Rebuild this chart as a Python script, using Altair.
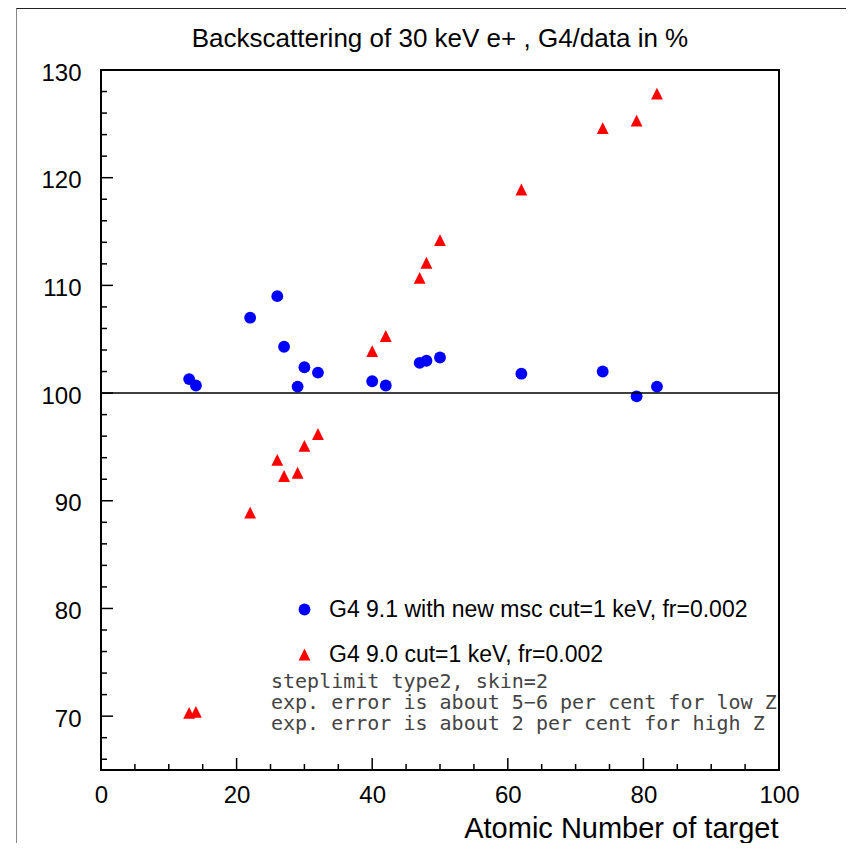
import altair as alt
import pandas as pd

# ---- data ----
atomic_z = [13, 14, 22, 26, 27, 29, 30, 32, 40, 42, 47, 48, 50, 62, 74, 79, 82]
g4_91 = [101.3, 100.7, 107.0, 109.0, 104.3, 100.6, 102.4, 101.9, 101.1, 100.7,
         102.8, 103.0, 103.3, 101.8, 102.0, 99.7, 100.6]
g4_90 = [70.3, 70.4, 88.9, 93.8, 92.3, 92.6, 95.1, 96.2, 103.9, 105.3,
         110.7, 112.1, 114.2, 118.9, 124.6, 125.3, 127.8]
series_names = ["G4 9.1 with new msc cut=1 keV, fr=0.002", "G4 9.0 cut=1 keV, fr=0.002"]
series_colors = ["#0000ff", "#ff0000"]
reference_level = [100]
notes = ["steplimit type2, skin=2",
         "exp. error is about 5\u22126 per cent for low Z",
         "exp. error is about 2 per cent for high Z"]
x_major = [0, 20, 40, 60, 80, 100]
x_minor = [v for v in range(5, 100, 5) if v % 20 != 0]
y_major = [70, 80, 90, 100, 110, 120, 130]
y_minor = [v for v in range(66, 130, 2) if v % 10 != 0]
title_text = "Backscattering of 30 keV e+ , G4/data in %"
x_title = "Atomic Number of target"

W, H = 678, 700
FONT = "Liberation Sans"
TRI = "M0,-1L1,1L-1,1Z"

df = pd.DataFrame({
    "Z": atomic_z * 2,
    "ratio": g4_91 + g4_90,
    "series": [series_names[0]] * len(atomic_z) + [series_names[1]] * len(atomic_z),
})

xs = alt.Scale(domain=[0, 100], nice=False, zero=False)
ys = alt.Scale(domain=[65, 130], nice=False, zero=False)

leg = alt.Legend(title=None, orient="none", legendX=192, legendY=528,
                 labelFontSize=23, labelFont=FONT, labelColor="black",
                 symbolSize=140, symbolStrokeWidth=0, symbolOpacity=1,
                 rowPadding=21, labelOffset=13, padding=0, labelLimit=1000)

points = alt.Chart(df).mark_point(filled=True, size=140, opacity=1).encode(
    x=alt.X("Z:Q", scale=xs, axis=alt.Axis(
        values=x_major, ticks=False, tickSize=0, domain=False, grid=False,
        labelFontSize=24, labelFont=FONT, labelColor="black", labelPadding=13,
        labelFlush=False, labelBaseline="top",
        title=x_title, titleFont=FONT, titleFontSize=29, titleFontWeight="normal",
        titleColor="black", titleAlign="right", titleBaseline="alphabetic",
        titleX=W - 1, titleY=67)),
    y=alt.Y("ratio:Q", scale=ys, axis=alt.Axis(
        values=y_major, ticks=False, tickSize=0, domain=False, grid=False,
        labelFontSize=24, labelFont=FONT, labelColor="black", labelPadding=20,
        labelOffset=3, labelFlush=False, title="")),
    color=alt.Color("series:N", scale=alt.Scale(domain=series_names, range=series_colors), legend=leg),
    shape=alt.Shape("series:N", scale=alt.Scale(domain=series_names, range=["circle", TRI]), legend=leg),
)

hline = alt.Chart(pd.DataFrame({"ratio": reference_level})).mark_rule(color="black", strokeWidth=1.5).encode(
    y=alt.Y("ratio:Q", scale=ys))

ytick_major = alt.Chart(pd.DataFrame({"ratio": y_major})).mark_rule(color="black", strokeWidth=1.5).encode(
    y=alt.Y("ratio:Q", scale=ys), x=alt.value(0), x2=alt.value(12))
ytick_minor = alt.Chart(pd.DataFrame({"ratio": y_minor})).mark_rule(color="black", strokeWidth=1.5).encode(
    y=alt.Y("ratio:Q", scale=ys), x=alt.value(0), x2=alt.value(6))
xtick_major = alt.Chart(pd.DataFrame({"Z": x_major})).mark_rule(color="black", strokeWidth=1.5).encode(
    x=alt.X("Z:Q", scale=xs), y=alt.value(H), y2=alt.value(H - 12))
xtick_minor = alt.Chart(pd.DataFrame({"Z": x_minor})).mark_rule(color="black", strokeWidth=1.5).encode(
    x=alt.X("Z:Q", scale=xs), y=alt.value(H), y2=alt.value(H - 6))

note_text = alt.Chart(pd.DataFrame({"k": [0]})).mark_text(
    font="DejaVu Sans Mono", fontSize=20, color="#444444", align="left",
    baseline="alphabetic", lineHeight=21).encode(
    text=alt.value(notes), x=alt.value(170), y=alt.value(618))

title_mark = alt.Chart(pd.DataFrame({"k": [0]})).mark_text(
    font=FONT, fontSize=26, color="black", align="center", baseline="alphabetic").encode(
    text=alt.value(title_text), x=alt.value(339), y=alt.value(-23.5))

frame_left = alt.Chart(pd.DataFrame({"k": [0]})).mark_rule(color="#888888", strokeWidth=1).encode(
    x=alt.value(-84.5), y=alt.value(-62), y2=alt.value(773))
frame_top = alt.Chart(pd.DataFrame({"k": [0]})).mark_rule(color="#222222", strokeWidth=1).encode(
    x=alt.value(-84.5), x2=alt.value(745), y=alt.value(-61.5))

chart = alt.layer(
    points, frame_left, frame_top, hline, ytick_major, ytick_minor, xtick_major, xtick_minor,
    note_text, title_mark
).properties(
    width=W, height=H,
    background="white",
    autosize=alt.AutoSizeParams(type="none"),
    padding={"left": 93, "top": 62, "right": 67, "bottom": 73},
).configure_view(stroke="black", strokeWidth=2)

chart.save("out.html", embed_options={"renderer": "svg", "actions": False})
